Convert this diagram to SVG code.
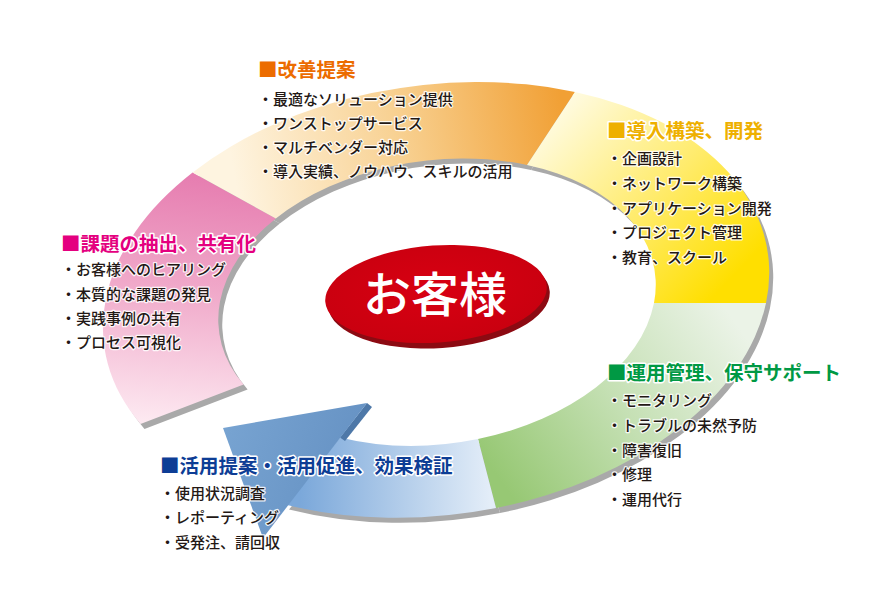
<svg xmlns="http://www.w3.org/2000/svg" width="870" height="615" viewBox="0 0 870 615">
<defs>
<linearGradient id="gPink" gradientUnits="userSpaceOnUse" x1="200" y1="175" x2="175" y2="425">
<stop offset="0" stop-color="#e67db0"/><stop offset="0.45" stop-color="#f0a8c9"/><stop offset="1" stop-color="#fde9f1"/>
</linearGradient>
<linearGradient id="gOrange" gradientUnits="userSpaceOnUse" x1="235" y1="180" x2="565" y2="120">
<stop offset="0" stop-color="#fef4e0"/><stop offset="0.5" stop-color="#f8d192"/><stop offset="1" stop-color="#f1a035"/>
</linearGradient>
<linearGradient id="gYellow" gradientUnits="userSpaceOnUse" x1="545" y1="120" x2="720" y2="290">
<stop offset="0" stop-color="#fffbe2"/><stop offset="0.55" stop-color="#ffeb6a"/><stop offset="1" stop-color="#ffdf00"/>
</linearGradient>
<linearGradient id="gGreen" gradientUnits="userSpaceOnUse" x1="730" y1="315" x2="500" y2="480">
<stop offset="0" stop-color="#ebf3e7"/><stop offset="0.5" stop-color="#c5e0b4"/><stop offset="1" stop-color="#97c874"/>
</linearGradient>
<linearGradient id="gBlue" gradientUnits="userSpaceOnUse" x1="300" y1="470" x2="490" y2="470">
<stop offset="0" stop-color="#7ba8da"/><stop offset="1" stop-color="#e3edf8"/>
</linearGradient>
<linearGradient id="gArrow" gradientUnits="userSpaceOnUse" x1="225" y1="430" x2="340" y2="470">
<stop offset="0" stop-color="#77a3d1"/><stop offset="1" stop-color="#6894c5"/>
</linearGradient>
<radialGradient id="gRed" cx="0.5" cy="0.45" r="0.6">
<stop offset="0" stop-color="#d80012"/><stop offset="1" stop-color="#c8000f"/>
</radialGradient>
<style>
.h{font-family:"Noto Sans CJK JP","Noto Sans",sans-serif;font-size:19.5px;font-weight:700;stroke:#fff;stroke-width:3;stroke-linejoin:round;paint-order:stroke}
.t{font-family:"Noto Sans CJK JP","Noto Sans",sans-serif;font-size:15px;font-weight:500;fill:#231815;stroke:#fff;stroke-width:2.5;stroke-linejoin:round;stroke-opacity:0.85;paint-order:stroke}
.sh{fill:#a9a9a9}
</style>
</defs>
<rect width="870" height="615" fill="#ffffff"/>

<g id="ring-shadow" transform="translate(4,5)">
<path class="sh" d="M140.5,424 A335,215 -8 0 1 192.6,172.4 L275.8,218.5 A220,142 -8 0 0 243.6,384.4 Z"/>
<path class="sh" d="M192.6,172.4 A335,215 -8 0 1 575,92 L527,165 A220,142 -8 0 0 275.8,218.5 Z"/>
<path class="sh" d="M575,92 A335,215 -8 0 1 766,303 L654,303 A220,142 -8 0 0 527,165 Z"/>
<path class="sh" d="M766,303 A335,215 -8 0 1 496,508 L478,439 A220,142 -8 0 0 654,303 Z"/>
<path class="sh" d="M496,508 A335,215 -8 0 1 285,504.5 L340,437.5 A220,142 -8 0 0 478,439 Z"/>
</g>

<g id="node-kadai">
<path d="M140.5,424 A335,215 -8 0 1 192.6,172.4 L275.8,218.5 A220,142 -8 0 0 243.6,384.4 Z" fill="url(#gPink)"/>
</g>
<g id="node-kaizen">
<path d="M192.6,172.4 A335,215 -8 0 1 575,92 L527,165 A220,142 -8 0 0 275.8,218.5 Z" fill="url(#gOrange)"/>
</g>
<g id="node-dounyu">
<path d="M575,92 A335,215 -8 0 1 766,303 L654,303 A220,142 -8 0 0 527,165 Z" fill="url(#gYellow)"/>
</g>
<g id="node-unyou">
<path d="M766,303 A335,215 -8 0 1 496,508 L478,439 A220,142 -8 0 0 654,303 Z" fill="url(#gGreen)"/>
</g>
<g id="node-katsuyou">
<path d="M496,508 A335,215 -8 0 1 285,504.5 L340,437.5 A220,142 -8 0 0 478,439 Z" fill="url(#gBlue)"/>
</g>

<g id="connectors">
<polygon points="367,403 372,407 345,441 340,437.5" fill="#4e78a8"/>
<polygon points="223,428 367,403 263,538" fill="url(#gArrow)"/>
</g>

<g id="node-customer">
<ellipse cx="439" cy="299" rx="111" ry="49" transform="rotate(-4 439 299)" fill="#8c0a12"/>
<ellipse cx="436" cy="294" rx="111" ry="48.5" transform="rotate(-4 436 294)" fill="url(#gRed)"/>
<text x="435" y="312" text-anchor="middle" font-family="'Noto Sans CJK JP','Noto Sans',sans-serif" font-size="48" font-weight="500" fill="#ffffff">お客様</text>
</g>

<g id="labels-kaizen">
<text class="h" x="258" y="77" fill="#ec6c00">■改善提案</text>
<text class="t" x="258" y="105">・最適なソリューション提供</text>
<text class="t" x="258" y="129">・ワンストップサービス</text>
<text class="t" x="258" y="153">・マルチベンダー対応</text>
<text class="t" x="258" y="177">・導入実績、ノウハウ、スキルの活用</text>
</g>
<g id="labels-dounyu">
<text class="h" x="607" y="138" fill="#eeb000">■導入構築、開発</text>
<text class="t" x="607" y="164">・企画設計</text>
<text class="t" x="607" y="189">・ネットワーク構築</text>
<text class="t" x="607" y="214">・アプリケーション開発</text>
<text class="t" x="607" y="238">・プロジェクト管理</text>
<text class="t" x="607" y="263">・教育、スクール</text>
</g>
<g id="labels-kadai">
<text class="h" x="61" y="251" fill="#e4007f">■課題の抽出、共有化</text>
<text class="t" x="61" y="275">・お客様へのヒアリング</text>
<text class="t" x="61" y="300">・本質的な課題の発見</text>
<text class="t" x="61" y="324">・実践事例の共有</text>
<text class="t" x="61" y="348">・プロセス可視化</text>
</g>
<g id="labels-unyou">
<text class="h" x="607" y="380" fill="#009944">■運用管理、保守サポート</text>
<text class="t" x="607" y="406">・モニタリング</text>
<text class="t" x="607" y="431">・トラブルの未然予防</text>
<text class="t" x="607" y="456">・障害復旧</text>
<text class="t" x="607" y="480">・修理</text>
<text class="t" x="607" y="505">・運用代行</text>
</g>
<g id="labels-katsuyou">
<text class="h" x="160" y="473" fill="#0d3d95">■活用提案・活用促進、効果検証</text>
<text class="t" x="160" y="499">・使用状況調査</text>
<text class="t" x="160" y="523">・レポーティング</text>
<text class="t" x="160" y="548">・受発注、請回収</text>
</g>
</svg>
